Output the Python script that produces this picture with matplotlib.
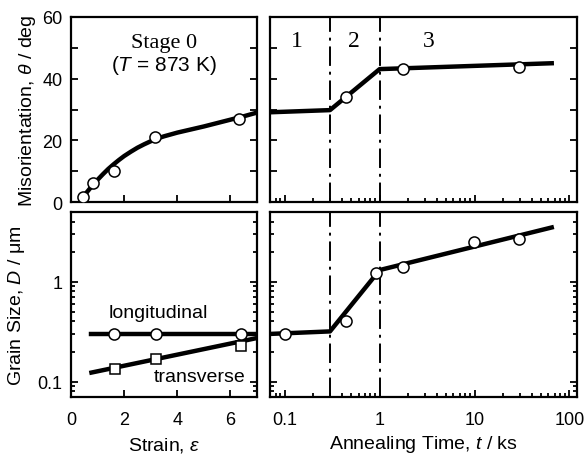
import numpy as np
import matplotlib
matplotlib.use('Agg')
import matplotlib.pyplot as plt
from matplotlib.ticker import LogLocator, NullFormatter, FixedLocator

plt.rcParams['font.family'] = ['Liberation Sans', 'DejaVu Sans']
plt.rcParams['mathtext.fontset'] = 'custom'
plt.rcParams['mathtext.it'] = 'Liberation Sans:italic'
plt.rcParams['mathtext.rm'] = 'Liberation Sans'

# stage 0 misorientation vs strain
strain_pts = [0.44, 0.83, 1.62, 3.18, 6.34]
theta_pts = [1.6, 6.1, 10.0, 21.0, 26.9]
strain_fit = [0.4, 0.6, 0.8, 1.0, 1.2, 1.4, 1.6, 1.8, 2.0, 2.25, 2.5, 2.75,
              3.0, 3.25, 3.5, 4.0, 4.5, 5.0, 5.5, 6.0, 6.5, 7.0]
theta_fit = [1.0, 3.2, 5.3, 7.2, 9.0, 10.7, 12.2, 13.6, 14.9, 16.3, 17.6, 18.7,
             19.7, 20.6, 21.3, 22.5, 23.5, 24.5, 25.6, 26.7, 27.8, 29.0]

# misorientation vs annealing time
time_theta_pts = [0.44, 1.78, 29.3]
theta_anneal_pts = [34.0, 43.0, 43.9]
time_theta_fit = [0.07, 0.30, 1.0, 65.0]
theta_anneal_fit = [29.1, 29.8, 43.1, 45.0]

# grain size vs strain
long_strain = [1.6, 3.2, 6.4]
long_size = [0.30, 0.30, 0.30]
long_fit_x = [0.77, 7.0]
long_fit_y = [0.30, 0.30]
trans_strain = [1.64, 3.2, 6.38]
trans_size = [0.134, 0.169, 0.225]
trans_fit_x = [0.77, 7.0]
trans_fit_y = [0.123, 0.273]

# grain size vs annealing time
time_d_pts = [0.10, 0.44, 0.91, 1.78, 9.8, 29.3]
size_anneal_pts = [0.30, 0.40, 1.21, 1.40, 2.50, 2.71]
time_d_fit = [0.07, 0.30, 1.0, 65.0]
size_anneal_fit = [0.30, 0.318, 1.31, 3.5]

stage_bounds = [0.30, 1.0]

W, H = 586, 460
fig = plt.figure(figsize=(W / 100, H / 100), dpi=100)


def box(x0, y0, x1, y1):
    return [x0 / W, 1 - y1 / H, (x1 - x0) / W, (y1 - y0) / H]


ax1 = fig.add_axes(box(71, 18, 257, 203))
ax2 = fig.add_axes(box(270, 18, 577, 203))
ax3 = fig.add_axes(box(71, 213, 257, 398))
ax4 = fig.add_axes(box(270, 213, 577, 398))

for ax in (ax1, ax2, ax3, ax4):
    for s in ax.spines.values():
        s.set_linewidth(1.6)
    ax.tick_params(which='both', direction='in', left=True, right=True,
                   top=False, bottom=True, width=1.3, labelsize=13, pad=6)
    ax.tick_params(which='major', length=5)
    ax.tick_params(which='minor', length=3)

lw = 3.2
circ = dict(marker='o', ms=8, mfc='white', mec='black', mew=1.1, ls='none', zorder=5)
sq = dict(marker='s', ms=6.5, mfc='white', mec='black', mew=1.1, ls='none', zorder=5)
dashdot = (0, (10, 3, 1.5, 3))

# top left
ax1.plot(strain_fit, theta_fit, color='black', lw=lw)
ax1.plot(strain_pts, theta_pts, **circ)
ax1.set_xlim(0, 7)
ax1.set_ylim(0, 60)
ax1.set_xticks([0, 2, 4, 6])
ax1.set_xticklabels([])
ax1.set_yticks([0, 20, 40, 60])
ax1.yaxis.set_minor_locator(FixedLocator([10, 30, 50]))
ax1.tick_params(axis='y', which='minor', length=5)
ax1.set_ylabel(r'Misorientation, $\theta$ / deg', fontsize=14, labelpad=3)
ax1.text(0.5, 0.86, 'Stage 0', transform=ax1.transAxes, ha='center', va='center',
         family='Liberation Serif', fontsize=16)
ax1.text(0.5, 0.745, '($T$ = 873 K)', transform=ax1.transAxes, ha='center', va='center',
         fontsize=15)

# top right
ax2.set_xscale('log')
ax2.plot(time_theta_fit, theta_anneal_fit, color='black', lw=lw)
ax2.plot(time_theta_pts, theta_anneal_pts, **circ)
ax2.set_xlim(0.07, 120)
ax2.set_ylim(0, 60)
ax2.set_yticks([0, 10, 20, 30, 40, 50, 60])
ax2.set_yticklabels([])
ax2.xaxis.set_major_locator(FixedLocator([0.1, 1, 10, 100]))
ax2.xaxis.set_minor_locator(LogLocator(base=10, subs=np.arange(2, 10), numticks=20))
ax2.xaxis.set_minor_formatter(NullFormatter())
ax2.set_xticklabels([])
for b in stage_bounds:
    ax2.axvline(b, color='black', lw=1.4, ls=dashdot)
for lbl, xc in zip(['1', '2', '3'], [0.135, 0.53, 3.3]):
    ax2.text(xc, 52.5, lbl, ha='center', va='center', family='Liberation Serif', fontsize=17)

# bottom left
ax3.set_yscale('log')
ax3.plot(long_fit_x, long_fit_y, color='black', lw=lw)
ax3.plot(long_strain, long_size, **circ)
ax3.plot(trans_fit_x, trans_fit_y, color='black', lw=lw)
ax3.plot(trans_strain, trans_size, **sq)
ax3.set_xlim(0, 7)
ax3.set_ylim(0.07, 5)
ax3.set_xticks([0, 2, 4, 6])
ax3.set_yticks([0.1, 1])
ax3.set_yticklabels(['0.1', '1'])
ax3.yaxis.set_minor_locator(LogLocator(base=10, subs=np.arange(2, 10), numticks=20))
ax3.yaxis.set_minor_formatter(NullFormatter())
ax3.tick_params(axis='x', pad=10)
ax3.text(3.3, 0.49, 'longitudinal', ha='center', va='center', fontsize=14)
ax3.text(4.85, 0.112, 'transverse', ha='center', va='center', fontsize=14)
ax3.set_ylabel(r'Grain Size, $D$ / μm', fontsize=14, labelpad=8)
ax3.set_xlabel(r'Strain, $\varepsilon$', fontsize=14, labelpad=5)

# bottom right
ax4.set_xscale('log')
ax4.set_yscale('log')
ax4.plot(time_d_fit, size_anneal_fit, color='black', lw=lw)
ax4.plot(time_d_pts, size_anneal_pts, **circ)
ax4.set_xlim(0.07, 120)
ax4.set_ylim(0.07, 5)
ax4.xaxis.set_major_locator(FixedLocator([0.1, 1, 10, 100]))
ax4.set_xticklabels(['0.1', '1', '10', '100'])
ax4.xaxis.set_minor_locator(LogLocator(base=10, subs=np.arange(2, 10), numticks=20))
ax4.xaxis.set_minor_formatter(NullFormatter())
ax4.yaxis.set_minor_locator(LogLocator(base=10, subs=np.arange(2, 10), numticks=20))
ax4.yaxis.set_minor_formatter(NullFormatter())
ax4.set_yticks([0.1, 1])
ax4.set_yticklabels([])
ax4.tick_params(axis='x', pad=10)
for b in stage_bounds:
    ax4.axvline(b, color='black', lw=1.4, ls=dashdot)
ax4.set_xlabel(r'Annealing Time, $t$ / ks', fontsize=14, labelpad=4)

fig.savefig('out.png', dpi=100)
